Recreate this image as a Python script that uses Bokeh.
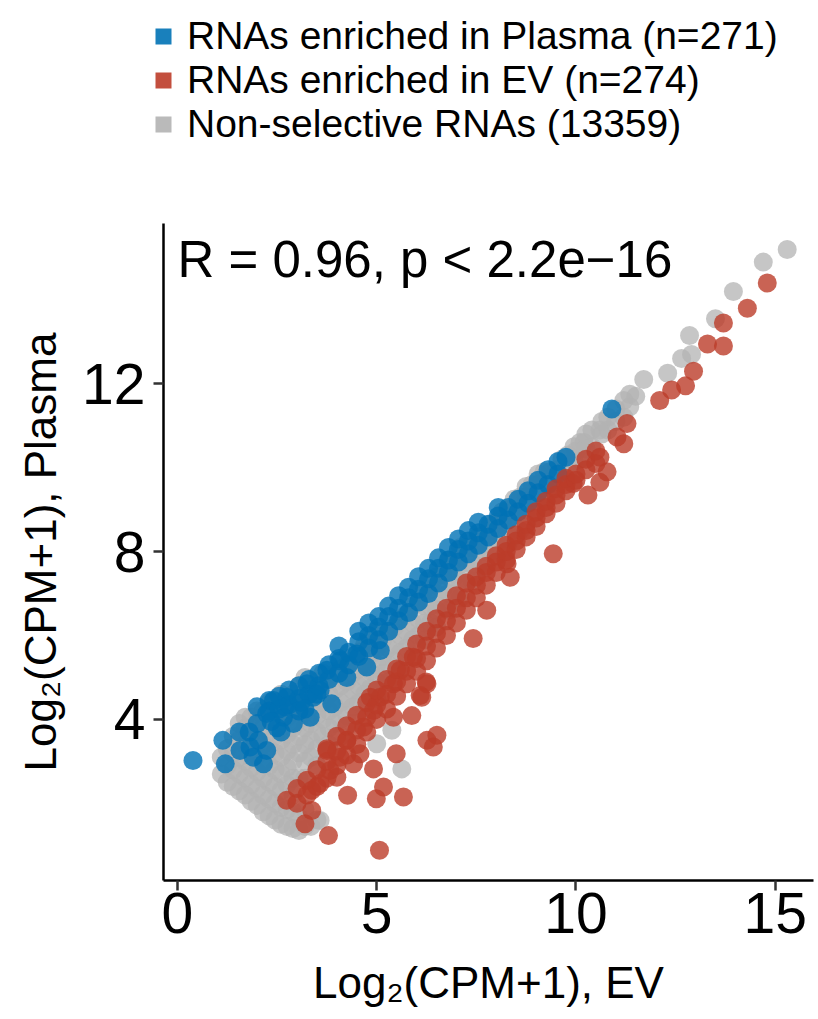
from bokeh.plotting import figure
from bokeh.layouts import column, row
from bokeh.models import Range1d, Legend, LegendItem, Label, FixedTicker
from bokeh.embed import file_html
from bokeh.resources import INLINE

# ---------------- data ----------------
legend_labels = ["RNAs enriched in Plasma (n=271)",
                 "RNAs enriched in EV (n=274)",
                 "Non-selective RNAs (13359)"]
x_ticks = [0, 5, 10, 15]
y_ticks = [4, 8, 12]
stat_text = "R = 0.96, p < 2.2e\u221216"

gray_x = [15.3, 14.7, 13.95, 13.5, 12.85, 12.9, 12.65, 12.3, 11.7, 11.5, 10.2, 10.0, 10.6,
          5.38, 5.0, 5.63, 3.58,
          1.1, 1.1,
          1.4, 1.4, 1.4, 1.4,
          1.7, 1.7, 1.7, 1.7, 1.7, 1.7,
          2.0, 2.0, 2.0, 2.0, 2.0, 2.0, 2.0,
          2.3, 2.3, 2.3, 2.3, 2.3, 2.3, 2.3, 2.3,
          2.6, 2.6, 2.6, 2.6, 2.6, 2.6, 2.6, 2.6, 2.6,
          2.9, 2.9, 2.9, 2.9, 2.9, 2.9, 2.9, 2.9, 2.9,
          3.2, 3.2, 3.2, 3.2, 3.2, 3.2, 3.2, 3.2, 3.2,
          3.5, 3.5, 3.5, 3.5, 3.5, 3.5, 3.5,
          3.8, 3.8, 3.8, 3.8, 3.8,
          4.1, 4.1, 4.1, 4.1, 4.1,
          4.4, 4.4, 4.4, 4.4, 4.4,
          4.7, 4.7, 4.7, 4.7, 4.7,
          5.0, 5.0, 5.0, 5.0, 5.0,
          5.3, 5.3, 5.3, 5.3,
          5.6, 5.6, 5.6, 5.6,
          5.9, 5.9, 5.9, 5.9,
          6.2, 6.2, 6.2, 6.2,
          6.5, 6.5, 6.5, 6.5,
          6.8, 6.8, 6.8, 6.8,
          7.1, 7.1, 7.1, 7.1,
          7.4, 7.4, 7.4,
          7.7, 7.7, 7.7,
          8.0, 8.0, 8.0,
          8.3, 8.3, 8.3,
          8.6, 8.6, 8.6,
          8.9, 8.9, 8.9,
          9.2, 9.2, 9.2,
          9.5, 9.5,
          9.8, 9.8,
          10.1, 10.1,
          10.4, 10.4,
          10.8, 10.8,
          11.2, 11.2,
          1.25, 1.25, 1.25,
          1.55, 1.55, 1.55, 1.55, 1.55,
          1.85, 1.85, 1.85, 1.85, 1.85, 1.85,
          2.15, 2.15, 2.15, 2.15, 2.15, 2.15, 2.15,
          2.45, 2.45, 2.45, 2.45, 2.45, 2.45, 2.45, 2.45,
          2.75, 2.75, 2.75, 2.75, 2.75, 2.75, 2.75, 2.75,
          3.05, 3.05, 3.05, 3.05, 3.05, 3.05, 3.05, 3.05,
          3.35, 3.35, 3.35, 3.35, 3.35, 3.35,
          3.65, 3.65, 3.65, 3.65, 3.65,
          3.95, 3.95, 3.95, 3.95,
          4.25, 4.25, 4.25, 4.25,
          4.55, 4.55, 4.55, 4.55,
          4.85, 4.85, 4.85, 4.85,
          5.15, 5.15, 5.15,
          5.45, 5.45, 5.45,
          5.75, 5.75, 5.75,
          6.05, 6.05, 6.05,
          6.35, 6.35, 6.35,
          6.65, 6.65, 6.65,
          6.95, 6.95, 6.95,
          7.25, 7.25, 7.25,
          7.55, 7.55, 7.55,
          7.85, 7.85, 7.85,
          8.15, 8.15, 8.15,
          8.45, 8.45, 8.45,
          8.75, 8.75, 8.75,
          9.05, 9.05, 9.05,
          9.35, 9.35,
          9.65, 9.65,
          9.95, 9.95,
          10.25, 10.25,
          10.65, 10.65,
          11.0, 11.0,
          11.35, 11.35]
gray_y = [15.2, 14.9, 14.2, 13.55, 13.15, 12.7, 12.6, 12.25, 12.1, 11.7, 10.6, 10.4, 10.9,
          3.74, 3.42, 2.82, 1.59,
          2.7, 3.1,
          2.4, 2.8, 3.2, 3.6,
          2.2, 2.6, 3.0, 3.4, 3.8, 4.05,
          1.95, 2.35, 2.75, 3.15, 3.55, 3.95, 4.2,
          1.7, 2.1, 2.5, 2.9, 3.3, 3.7, 4.1, 4.4,
          1.5, 1.9, 2.3, 2.7, 3.1, 3.5, 3.9, 4.3, 4.6,
          1.4, 1.8, 2.2, 2.6, 3.0, 3.4, 3.8, 4.2, 4.6,
          1.45, 1.85, 2.6, 3.0, 3.4, 3.8, 4.2, 4.6, 5.0,
          1.6, 2.9, 3.3, 3.7, 4.1, 4.5, 4.9,
          3.4, 3.8, 4.2, 4.6, 5.0,
          3.6, 4.0, 4.4, 4.8, 5.2,
          3.9, 4.3, 4.7, 5.1, 5.5,
          4.2, 4.6, 5.0, 5.4, 5.8,
          4.5, 4.9, 5.3, 5.7, 6.1,
          4.9, 5.3, 5.7, 6.1,
          5.2, 5.6, 6.0, 6.4,
          5.5, 5.9, 6.3, 6.7,
          5.9, 6.3, 6.7, 7.1,
          6.2, 6.6, 7.0, 7.4,
          6.6, 7.0, 7.4, 7.8,
          6.9, 7.3, 7.7, 8.1,
          7.3, 7.7, 8.1,
          7.6, 8.0, 8.4,
          7.9, 8.3, 8.7,
          8.2, 8.6, 9.0,
          8.5, 8.9, 9.3,
          8.9, 9.3, 9.6,
          9.2, 9.6, 9.9,
          9.6, 9.95,
          9.9, 10.3,
          10.2, 10.6,
          10.5, 10.9,
          10.9, 11.2,
          11.2, 11.6,
          2.5, 2.9, 3.3,
          2.3, 2.7, 3.1, 3.5, 3.9,
          2.05, 2.45, 2.85, 3.25, 3.65, 4.05,
          1.8, 2.2, 2.6, 3.0, 3.4, 3.8, 4.2,
          1.6, 2.0, 2.4, 2.8, 3.2, 3.6, 4.0, 4.4,
          1.45, 1.85, 2.45, 2.85, 3.25, 3.65, 4.05, 4.45,
          1.35, 1.65, 2.6, 3.2, 3.6, 4.0, 4.4, 4.8,
          1.45, 3.1, 3.5, 3.9, 4.3, 4.7,
          3.6, 4.0, 4.4, 4.8, 5.1,
          3.9, 4.3, 4.7, 5.1,
          4.1, 4.5, 4.9, 5.3,
          4.4, 4.8, 5.2, 5.6,
          4.75, 5.15, 5.55, 5.9,
          5.1, 5.5, 5.9,
          5.4, 5.8, 6.2,
          5.7, 6.1, 6.5,
          6.0, 6.4, 6.8,
          6.3, 6.7, 7.1,
          6.7, 7.1, 7.45,
          7.0, 7.4, 7.8,
          7.35, 7.75, 8.1,
          7.65, 8.05, 8.35,
          8.0, 8.35, 8.65,
          8.3, 8.65, 8.95,
          8.6, 8.95, 9.25,
          8.95, 9.3, 9.55,
          9.25, 9.6, 9.85,
          9.55, 9.9,
          9.9, 10.2,
          10.15, 10.5,
          10.45, 10.8,
          10.8, 11.1,
          11.1, 11.4,
          11.45, 11.75]

blue_x = [0.39, 1.14, 1.2, 1.55, 1.57, 1.82, 2.03, 2.16, 2.24, 2.24, 2.41, 2.66, 2.74, 2.91,
          3.33, 3.41, 3.25, 3.58, 3.75, 3.87, 4.08, 4.25, 4.5, 4.75, 5.09,
          2.7, 3.1, 2.5, 2.0, 1.8, 10.9,
          2.3, 2.3, 2.55, 2.55, 2.8, 2.8, 3.05, 3.05, 3.05, 3.3, 3.3, 3.55, 3.55,
          3.8, 3.8, 4.05, 4.05, 4.05, 4.3, 4.3, 4.55, 4.55, 4.55, 4.8, 4.8, 4.8,
          5.05, 5.05, 5.05, 5.3, 5.3, 5.3, 5.55, 5.55, 5.55, 5.8, 5.8, 5.8,
          6.05, 6.05, 6.05, 6.3, 6.3, 6.3, 6.55, 6.55, 6.55, 6.8, 6.8, 6.8,
          7.05, 7.05, 7.05, 7.3, 7.3, 7.3, 7.55, 7.55, 7.55, 7.8, 7.8,
          8.05, 8.05, 8.05, 8.3, 8.3, 8.55, 8.55, 8.8, 8.8, 9.05, 9.05,
          9.3, 9.3, 9.55, 9.55, 9.75,
          2.0, 2.35, 2.6, 1.9, 3.2, 3.5]
blue_y = [3.02, 3.5, 2.94, 3.7, 3.26, 3.34, 3.5, 2.94, 3.26, 4.14, 4.45, 4.05, 4.53, 3.9,
          4.05, 4.53, 4.85, 4.69, 5.17, 4.37, 5.4, 5.0, 5.56, 5.25, 5.64,
          4.3, 4.4, 3.8, 3.9, 3.7, 11.4,
          4.2, 4.45, 4.25, 4.55, 4.35, 4.7, 4.5, 4.8, 4.2, 4.6, 4.95, 4.8, 5.1,
          4.95, 5.3, 5.1, 5.45, 5.75, 5.3, 5.6, 5.5, 5.85, 6.1, 5.7, 6.0, 6.3,
          5.9, 6.2, 6.45, 6.1, 6.45, 6.7, 6.35, 6.65, 6.95, 6.55, 6.9, 7.15,
          6.8, 7.1, 7.4, 7.0, 7.35, 7.6, 7.25, 7.6, 7.85, 7.5, 7.8, 8.1,
          7.75, 8.05, 8.3, 7.95, 8.25, 8.5, 8.15, 8.45, 8.7, 8.35, 8.65,
          8.55, 8.85, 9.05, 8.75, 9.05, 8.95, 9.25, 9.15, 9.45, 9.4, 9.7,
          9.6, 9.95, 9.85, 10.15, 10.25,
          4.3, 3.95, 3.7, 3.1, 4.25, 4.6]

red_x = [2.74, 3.2, 3.37, 3.79, 5.07, 5.67, 5.17, 4.99, 4.27, 4.92, 5.49, 6.26, 6.51, 6.42,
         5.88, 6.13, 6.24, 3.37, 3.58, 3.83, 4.08, 4.42, 3.75, 4.25, 4.67, 4.92, 5.09,
         5.42, 5.59, 5.92, 5.42, 4.84, 4.0, 4.58,
         9.93, 10.3, 10.6, 10.78, 10.6, 11.03, 11.2, 11.28,
         9.43, 7.42, 7.76, 8.35, 8.27, 6.26, 6.09,
         12.1, 12.4, 12.75, 12.95, 13.3, 13.7, 13.7, 14.3, 14.8,
         3.0, 3.0, 3.25, 3.25, 3.5, 3.5, 3.75, 3.75, 3.75, 4.0, 4.0, 4.0,
         4.25, 4.25, 4.25, 4.5, 4.5, 4.5, 4.75, 4.75, 4.75, 5.0, 5.0, 5.0,
         5.25, 5.25, 5.25, 5.5, 5.5, 5.5, 5.75, 5.75, 5.75, 6.0, 6.0, 6.0,
         6.25, 6.25, 6.25, 6.5, 6.5, 6.5, 6.75, 6.75, 6.75, 7.0, 7.0, 7.0,
         7.25, 7.25, 7.25, 7.5, 7.5, 7.5, 7.75, 7.75, 7.75, 8.0, 8.0, 8.0,
         8.25, 8.25, 8.25, 8.5, 8.5, 8.5, 8.75, 8.75, 8.75, 9.0, 9.0, 9.0,
         9.25, 9.25, 9.25, 9.5, 9.5, 9.5, 9.75, 9.75, 9.75, 10.0, 10.0,
         10.25, 10.25, 10.5, 10.5]
red_y = [2.07, 1.51, 1.83, 1.23, 0.88, 2.15, 2.39, 2.11, 2.19, 2.82, 3.18, 3.5, 3.62, 3.34,
         4.09, 4.53, 4.89, 2.31, 2.47, 2.78, 3.1, 2.94, 3.26, 3.5, 3.82, 4.21, 4.53,
         4.85, 5.17, 5.48, 4.05, 4.53, 2.62, 3.18,
         9.62, 9.35, 9.65, 9.9, 10.25, 10.73, 10.57, 11.05,
         7.95, 5.93, 6.6, 7.39, 7.71, 4.85, 4.57,
         11.6, 11.85, 11.95, 12.3, 12.95, 12.9, 13.45, 13.8, 14.4,
         2.0, 2.35, 2.2, 2.55, 2.4, 2.8, 2.6, 3.0, 3.3, 2.9, 3.25, 3.6,
         3.15, 3.5, 3.85, 3.4, 3.75, 4.1, 3.7, 4.05, 4.4, 4.0, 4.35, 4.7,
         4.25, 4.6, 4.95, 4.55, 4.9, 5.2, 4.85, 5.15, 5.5, 5.15, 5.45, 5.8,
         5.4, 5.75, 6.1, 5.7, 6.05, 6.4, 6.0, 6.35, 6.65, 6.3, 6.65, 6.95,
         6.6, 6.9, 7.25, 6.9, 7.2, 7.4, 7.2, 7.5, 7.65, 7.5, 7.75, 7.9,
         7.8, 8.0, 8.15, 8.05, 8.25, 8.4, 8.35, 8.5, 8.65, 8.6, 8.8, 8.95,
         8.9, 9.05, 9.2, 9.15, 9.35, 9.5, 9.45, 9.6, 9.75, 9.7, 9.85,
         9.95, 10.2, 10.1, 10.4]

BLUE = "#0072B5"
RED = "#BC3C29"
GRAY = "#B3B3B3"
FONT = "Liberation Sans"

# ---------------- legend strip (its own small figure) ----------------
leg_fig = figure(width=818, height=160, x_range=Range1d(0, 1), y_range=Range1d(0, 1),
                 output_backend="svg", toolbar_location=None,
                 x_axis_type=None, y_axis_type=None, min_border=0)
leg_fig.grid.visible = False
leg_fig.outline_line_color = None
# key renderers: square keys; their single point lies outside the visible range
lb = leg_fig.scatter(x=[-5], y=[-5], marker="square", fill_color=BLUE, fill_alpha=0.9, line_color=None)
lr = leg_fig.scatter(x=[-5], y=[-5], marker="square", fill_color=RED, fill_alpha=0.9, line_color=None)
lg = leg_fig.scatter(x=[-5], y=[-5], marker="square", fill_color=GRAY, fill_alpha=0.9, line_color=None)
legend = Legend(items=[LegendItem(label=legend_labels[0], renderers=[lb]),
                       LegendItem(label=legend_labels[1], renderers=[lr]),
                       LegendItem(label=legend_labels[2], renderers=[lg])],
                location=(133, 4), orientation="vertical",
                background_fill_alpha=0, border_line_alpha=0,
                label_text_font=FONT, label_text_font_size="39px",
                label_text_color="black",
                glyph_width=40, glyph_height=44, spacing=0, padding=10,
                label_standoff=4, margin=0)
leg_fig.add_layout(legend)

# ---------------- main scatter ----------------
p = figure(frame_width=650, frame_height=657,
           x_range=Range1d(-0.35, 15.96), y_range=Range1d(0.16, 15.82),
           output_backend="svg", toolbar_location=None,
           min_border_left=163, min_border_right=5,
           min_border_top=63, min_border_bottom=139)
p.grid.visible = False
p.outline_line_color = None

p.scatter(x=gray_x, y=gray_y, size=19, fill_color=GRAY, fill_alpha=0.75, line_color=None)
p.scatter(x=blue_x, y=blue_y, size=19, fill_color=BLUE, fill_alpha=0.8, line_color=None)
p.scatter(x=red_x, y=red_y, size=19, fill_color=RED, fill_alpha=0.8, line_color=None)

p.add_layout(Label(x=0.0, y=14.97, text=stat_text, text_font=FONT,
                   text_font_size="51px", text_baseline="alphabetic",
                   text_color="black"))

for ax in (p.xaxis[0], p.yaxis[0]):
    ax.axis_line_width = 2.5
    ax.axis_line_color = "black"
    ax.major_tick_line_width = 2.5
    ax.major_tick_line_color = "#333333"
    ax.major_tick_in = 0
    ax.major_tick_out = 10
    ax.minor_tick_line_color = None
    ax.major_label_text_font = FONT
    ax.major_label_text_font_size = "57px"
    ax.major_label_text_color = "black"
    ax.axis_label_text_font = FONT
    ax.axis_label_text_font_size = "44px"
    ax.axis_label_text_font_style = "normal"
    ax.axis_label_text_color = "black"

p.xaxis.ticker = FixedTicker(ticks=x_ticks)
p.yaxis.ticker = FixedTicker(ticks=y_ticks)
p.xaxis.axis_label = "Log\u2082(CPM+1), EV"
p.yaxis.axis_label = "Log\u2082(CPM+1), Plasma"
p.xaxis.major_label_standoff = 2
p.yaxis.major_label_standoff = 8
p.xaxis.axis_label_standoff = 22
p.yaxis.axis_label_standoff = 14

layout = column(row(leg_fig), row(p), spacing=0)
open("out.html", "w").write(file_html(layout, INLINE))
